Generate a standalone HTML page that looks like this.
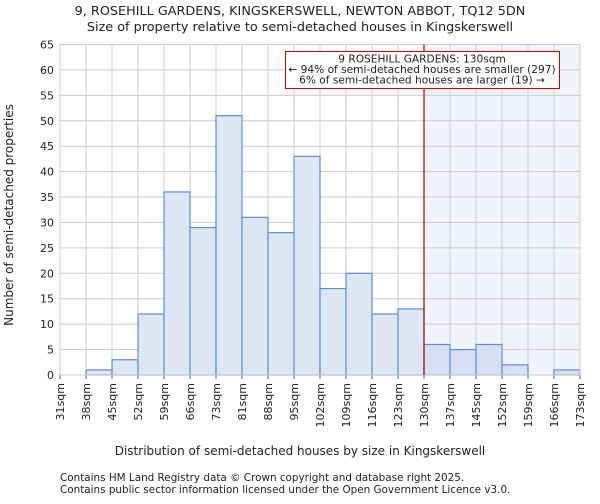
<!DOCTYPE html>
<html><head><meta charset="utf-8"><style>
body{margin:0;background:#fff;font-family:"DejaVu Sans","Liberation Sans",sans-serif}
svg text{font-family:"DejaVu Sans","Liberation Sans",sans-serif;fill:#222}
</style></head><body>
<svg id="c" width="600" height="500">
<text x="300" y="15" font-size="12.8" text-anchor="middle">9, ROSEHILL GARDENS, KINGSKERSWELL, NEWTON ABBOT, TQ12 5DN</text>
<text x="300" y="31" font-size="12.8" text-anchor="middle">Size of property relative to semi-detached houses in Kingskerswell</text>
<g id="plot"></g>
<text x="300" y="455" font-size="12" text-anchor="middle">Distribution of semi-detached houses by size in Kingskerswell</text>
<text transform="translate(13,215) rotate(-90)" font-size="12" text-anchor="middle">Number of semi-detached properties</text>
<text x="60" y="481" font-size="10.4">Contains HM Land Registry data © Crown copyright and database right 2025.</text>
<text x="60" y="493" font-size="10.4">Contains public sector information licensed under the Open Government Licence v3.0.</text>
</svg>
<script>
const categories=["31sqm","38sqm","45sqm","52sqm","59sqm","66sqm","73sqm","81sqm","88sqm","95sqm","102sqm","109sqm","116sqm","123sqm","130sqm","137sqm","145sqm","152sqm","159sqm","166sqm","173sqm"];
const counts=[0,1,3,12,36,29,51,31,28,43,17,20,12,13,6,5,6,2,0,1];
const yTicks=[0,5,10,15,20,25,30,35,40,45,50,55,60,65];
const markerIndex=14;
const NS="http://www.w3.org/2000/svg";
const L=60,R=580,T=44.5,B=375,yMax=65;
const nb=counts.length,bw=(R-L)/nb;
const xs=i=>L+i*bw, ys=v=>B-(v/yMax)*(B-T);
const g=document.getElementById('plot');
function mk(t,a){const e=document.createElementNS(NS,t);for(const k in a)e.setAttribute(k,a[k]);g.appendChild(e);return e;}
let e=mk('rect',{x:xs(markerIndex),y:T,width:R-xs(markerIndex),height:B-T,fill:'#f1f4fc'});


yTicks.forEach(v=>{
 let l=mk('line',{x1:L,x2:R,y1:ys(v),y2:ys(v),stroke:'#cccccc','stroke-width':1});
 
 
 let t=mk('text',{x:L-6,y:ys(v)+4,'font-size':11,'text-anchor':'end'});t.textContent=v;
 
 
});
categories.forEach((c,i)=>{
 let l=mk('line',{x1:xs(i),x2:xs(i),y1:T,y2:B,stroke:'#cccccc','stroke-width':1});
 
 
 let tk=mk('line',{x1:xs(i),x2:xs(i),y1:B,y2:B+4,stroke:'#555'});
 
 
 let t=mk('text',{transform:`translate(${xs(i)+4},${B+8}) rotate(-90)`,'font-size':11,'text-anchor':'end'});t.textContent=c;
 
 
});
counts.forEach((v,i)=>{
 if(v<=0)return;
 let r=mk('rect',{x:xs(i),y:ys(v),width:bw,height:B-ys(v),fill:i>=markerIndex?'#d6e0f2':'#dde6f3',stroke:'#5b8ed6','stroke-width':1.2});
 
 
});
let fr=mk('rect',{x:L,y:T,width:R-L,height:B-T,fill:'none',stroke:'#cccccc'});


let ml=mk('line',{x1:xs(markerIndex),x2:xs(markerIndex),y1:T,y2:B,stroke:'#aa0000','stroke-width':1.2});


let bx=mk('rect',{x:285.5,y:51.5,width:274,height:37,fill:'#fff',stroke:'#cc0000','stroke-width':1});


["9 ROSEHILL GARDENS: 130sqm","← 94% of semi-detached houses are smaller (297)","6% of semi-detached houses are larger (19) →"].forEach((s,k)=>{
 let t=mk('text',{x:422,y:62.5+k*10.5,'font-size':10.6,'text-anchor':'middle'});t.textContent=s;
 
 
});
</script>
</body></html>
